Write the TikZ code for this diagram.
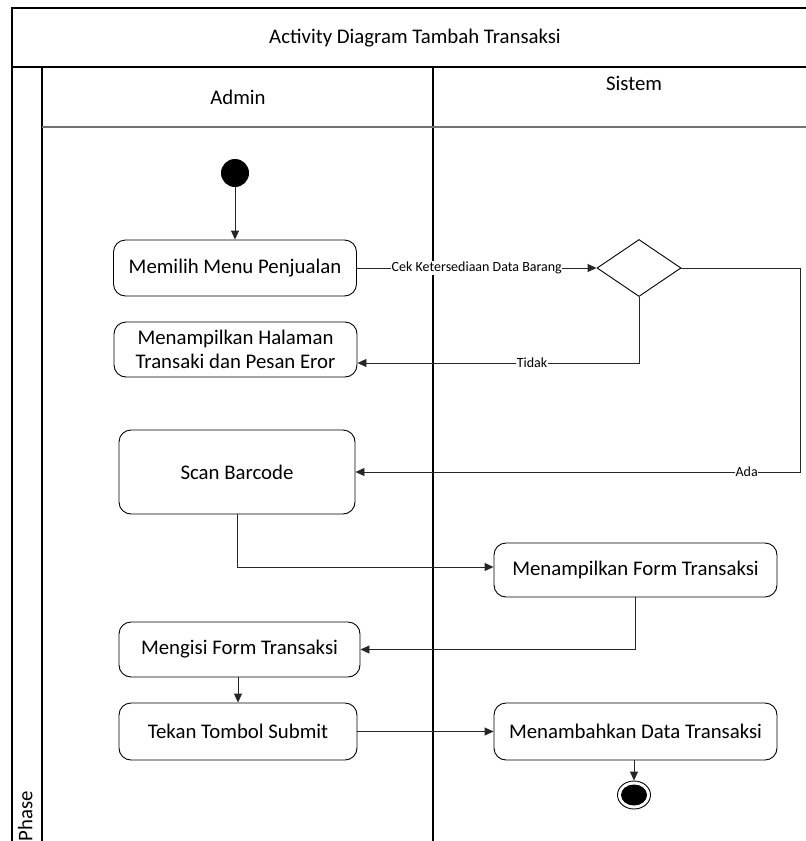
\documentclass[tikz,border=0pt]{standalone}
\usepackage{fontspec}
\setmainfont{Carlito}
\usetikzlibrary{arrows.meta,shapes.geometric}
\begin{document}
\begin{tikzpicture}[x=1pt,y=-1pt,
  frame/.style={line width=1.1pt,draw=black},
  act/.style={draw=black,line width=0.9pt,rounded corners=12pt,align=center,
    inner sep=2pt,font=\fontsize{20.8}{24.5}\selectfont},
  flow/.style={line width=0.9pt,draw=black!85,-{Triangle[length=9pt,width=8pt]}},
  lbl/.style={fill=white,inner sep=0.5pt,font=\fontsize{14}{16}\selectfont},
  lane/.style={font=\fontsize{20.8}{24.5}\selectfont}]
\useasboundingbox (0,0) rectangle (806,841);

% swimlane frame
\draw[frame] (12,841) -- (12,8) -- (806,8);
\draw[frame] (12,67) -- (806,67);
\draw[frame] (42,67) -- (42,841);
\draw[frame] (433,67) -- (433,841);
\draw[line width=1.6pt,draw=black!55] (42,127) -- (806,127);

\node[lane] (title) at (415,38) {Activity Diagram Tambah Transaksi};
\node[lane] (admin) at (238,97) {Admin};
\node[lane] (sistem) at (634,83) {Sistem};
\node[lane,rotate=90,anchor=south] (phase) at (36,816) {Phase};

% activities
\node[fill=black,circle,minimum size=28pt,inner sep=0pt] (start) at (235,173) {};
\node[act,minimum width=243pt,minimum height=56pt] (memilih) at (235,268) {Memilih Menu Penjualan};
\node[draw=black,line width=0.9pt,diamond,minimum width=84pt,minimum height=57pt,inner sep=0pt] (dec) at (639,268) {};
\node[act,minimum width=243pt,minimum height=55pt] (halaman) at (235.5,349.5) {Menampilkan Halaman\\Transaki dan Pesan Eror};
\node[act,minimum width=236pt,minimum height=84pt] (scan) at (237,472) {Scan Barcode};
\node[act,minimum width=283pt,minimum height=54pt] (form) at (635.5,570) {Menampilkan Form Transaksi};
\node[act,minimum width=241pt,minimum height=55pt] (mengisi) at (239.5,649.5) {Mengisi Form Transaksi};
\node[act,minimum width=238pt,minimum height=57pt] (tekan) at (238,731.5) {Tekan Tombol Submit};
\node[act,minimum width=283pt,minimum height=57pt] (tambah) at (635.5,731.5) {Menambahkan Data Transaksi};
\node[draw=black,line width=0.9pt,ellipse,minimum width=33pt,minimum height=28pt,inner sep=0pt] (end) at (634,795) {};
\node[fill=black,ellipse,minimum width=26pt,minimum height=21pt,inner sep=0pt] (endcore) at (end.center) {};

\coordinate (adax) at (800,0);

% control flow
\draw[flow] (start) -- (memilih);
\draw[flow] (memilih) -- node[lbl] {Cek Ketersediaan Data Barang} (dec);
\draw[flow] (dec.south) |- node[lbl,pos=0.69] {Tidak} ([yshift=-13.5pt]halaman.east);
\draw[flow] (dec.east) -- (adax |- dec.east) |- node[lbl,pos=0.56] {Ada} (scan.east);
\draw[flow] (scan.south) |- ([yshift=3pt]form.west);
\draw[flow] (form.south) |- (mengisi.east);
\draw[flow] (mengisi.south -| tekan.north) -- (tekan.north);
\draw[flow] (tekan) -- (tambah);
\draw[flow] (tambah.south -| end.north) -- (end.north);
\end{tikzpicture}
\end{document}
